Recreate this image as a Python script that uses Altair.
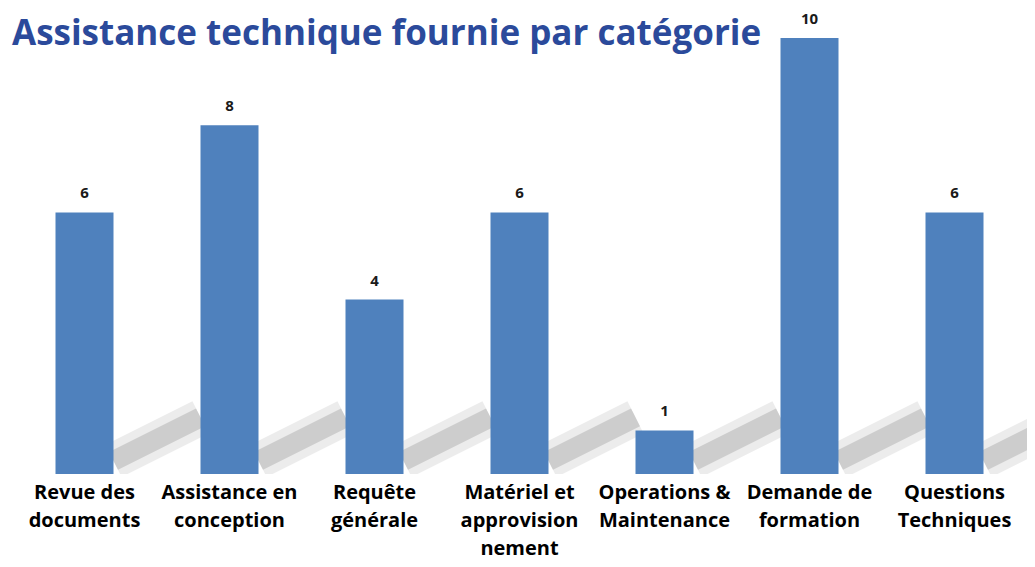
import altair as alt
import pandas as pd

categories = [
    "Revue des\ndocuments",
    "Assistance en\nconception",
    "Requête\ngénérale",
    "Matériel et\napprovision\nnement",
    "Operations &\nMaintenance",
    "Demande de\nformation",
    "Questions\nTechniques",
]
values = [6, 8, 4, 6, 1, 10, 6]
title_text = "Assistance technique fournie par catégorie"

df = pd.DataFrame({"cat": categories, "val": values, "idx": list(range(len(categories)))})

xscale = alt.Scale(paddingInner=0.6, paddingOuter=0.3)
yscale = alt.Scale(domain=[0, 10], nice=False)

x_axis = alt.Axis(
    labelExpr="split(datum.value, '\\n')",
    labelAngle=0,
    labelFont="Open Sans",
    labelFontWeight="bold",
    labelFontSize=20,
    labelColor="#000000",
    labelLineHeight=28,
    labelPadding=8,
    labelBaseline="top",
    labelOverlap=False,
    labelLimit=300,
    ticks=False,
    domain=False,
    grid=False,
)

base = alt.Chart(df)
slot_scale = alt.Scale(domain=[0, len(categories)], nice=False, zero=False)


def shadow_layer(color, width, opacity):
    return (
        base.transform_calculate(sx="datum.idx + 0.7", sx2="datum.idx + 1.3", sy="0.3", sy2="1.3")
        .mark_rule(color=color, strokeWidth=width, opacity=opacity, clip=True)
        .encode(
            x=alt.X("sx:Q", scale=slot_scale, axis=None),
            x2="sx2:Q",
            y=alt.Y("sy:Q", scale=yscale, axis=None),
            y2="sy2:Q",
        )
    )


shadow_outer = shadow_layer("#dcdcdc", 36, 0.55)
shadow_inner = shadow_layer("#c6c6c6", 20, 0.8)

bars = base.mark_bar(color="#4F81BD").encode(
    x=alt.X("cat:N", sort=categories, scale=xscale, axis=x_axis, title=None),
    y=alt.Y("val:Q", scale=yscale, axis=None),
)

labels = base.mark_text(
    dy=-14, font="Open Sans", fontWeight="bold", fontSize=15, color="#1a1a1a", baseline="alphabetic"
).encode(
    x=alt.X("cat:N", sort=categories, scale=xscale, axis=x_axis, title=None),
    y=alt.Y("val:Q", scale=yscale, axis=None),
    text=alt.Text("val:Q"),
)

chart = (
    alt.layer(alt.layer(shadow_outer, shadow_inner), alt.layer(bars, labels))
    .resolve_scale(x="independent")
    .properties(
        width=1015,
        height=436,
        autosize="none",
        padding={"left": 4, "top": 30, "right": 0, "bottom": 89},
        background="white",
        title=alt.Title(
            title_text,
            anchor="start",
            frame="group",
            font="Open Sans",
            fontSize=35,
            fontWeight="bold",
            color="#2B4A9B",
            offset=4,
            dy=44,
        ),
    )
    .configure_view(stroke=None)
)

chart.save("out.html", embed_options={"renderer": "svg", "actions": False})
